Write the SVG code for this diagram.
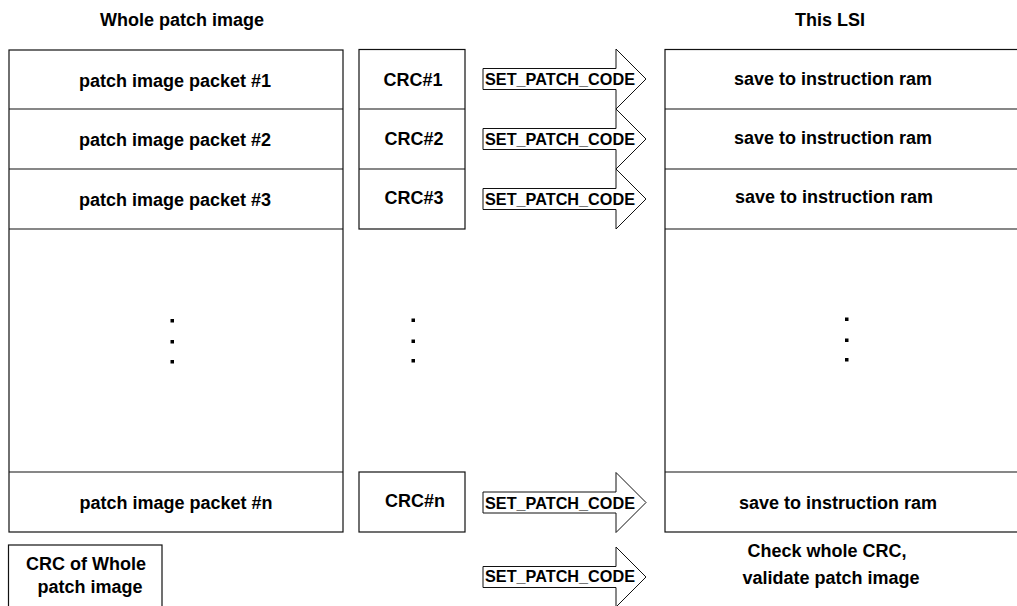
<svg xmlns="http://www.w3.org/2000/svg" width="1017" height="606" viewBox="0 0 1017 606">
<style>
.box{fill:#fff;stroke:#111;stroke-width:1.2}
.ln{stroke:#111;stroke-width:1.2;fill:none}
.t{font-family:"Liberation Sans",Arial,sans-serif;font-weight:bold;font-size:18px;fill:#000;text-anchor:middle}
.at{font-family:"Liberation Sans",Arial,sans-serif;font-weight:bold;font-size:16.5px;fill:#000}
.arr{fill:#fff;stroke:#111;stroke-width:1}
.dot{fill:#000}
</style>
<defs>
<path id="arrow" class="arr" d="M483,-10.5 H616 V-30 L646,0 L616,30 V10.5 H483 Z"/>
</defs>
<rect width="1017" height="606" fill="#fff"/>

<g id="title-left"><text class="t" x="182" y="26">Whole patch image</text></g>
<g id="title-right"><text class="t" x="830" y="26">This LSI</text></g>

<g id="patch-image">
<rect class="box" x="9" y="50" width="334" height="482"/>
<line class="ln" x1="9" y1="109" x2="343" y2="109"/>
<line class="ln" x1="9" y1="169" x2="343" y2="169"/>
<line class="ln" x1="9" y1="229" x2="343" y2="229"/>
<line class="ln" x1="9" y1="472" x2="343" y2="472"/>
<text class="t" x="175" y="87">patch image packet #1</text>
<text class="t" x="175" y="146">patch image packet #2</text>
<text class="t" x="175" y="206">patch image packet #3</text>
<rect class="dot" x="170.5" y="319" width="3.5" height="3.5"/>
<rect class="dot" x="170.5" y="340" width="3.5" height="3.5"/>
<rect class="dot" x="170.5" y="360" width="3.5" height="3.5"/>
<text class="t" x="176" y="509">patch image packet #n</text>
</g>

<g id="crc-column">
<rect class="box" x="359" y="49.5" width="106" height="179.5"/>
<line class="ln" x1="359" y1="109" x2="465" y2="109"/>
<line class="ln" x1="359" y1="169" x2="465" y2="169"/>
<text class="t" x="413" y="86">CRC#1</text>
<text class="t" x="414" y="145">CRC#2</text>
<text class="t" x="414" y="204">CRC#3</text>
<rect class="dot" x="411.5" y="318.5" width="3.5" height="3.5"/>
<rect class="dot" x="411.5" y="339.5" width="3.5" height="3.5"/>
<rect class="dot" x="411.5" y="359" width="3.5" height="3.5"/>
</g>

<g id="crc-n">
<rect class="box" x="359" y="472" width="106" height="60"/>
<text class="t" x="415" y="507">CRC#n</text>
</g>

<g id="crc-whole">
<rect class="box" x="8.5" y="545" width="153.5" height="80"/>
<text class="t" x="86" y="570">CRC of Whole</text>
<text class="t" x="90" y="593">patch image</text>
</g>

<g id="lsi">
<rect class="box" x="665" y="49.5" width="380" height="482.5"/>
<line class="ln" x1="665" y1="109" x2="1017" y2="109"/>
<line class="ln" x1="665" y1="169" x2="1017" y2="169"/>
<line class="ln" x1="665" y1="229" x2="1017" y2="229"/>
<line class="ln" x1="665" y1="472" x2="1017" y2="472"/>
<text class="t" x="833" y="85">save to instruction ram</text>
<text class="t" x="833" y="144">save to instruction ram</text>
<text class="t" x="834" y="203">save to instruction ram</text>
<rect class="dot" x="845" y="317.5" width="3.5" height="3.5"/>
<rect class="dot" x="845" y="338.5" width="3.5" height="3.5"/>
<rect class="dot" x="845" y="358" width="3.5" height="3.5"/>
<text class="t" x="838" y="509">save to instruction ram</text>
</g>

<g id="validate">
<text class="t" x="827" y="557">Check whole CRC,</text>
<text class="t" x="831" y="584">validate patch image</text>
</g>

<g id="connectors">
<g transform="translate(0,79)"><use href="#arrow"/><text class="at" x="485" y="6" textLength="150" lengthAdjust="spacingAndGlyphs">SET_PATCH_CODE</text></g>
<g transform="translate(0,139)"><use href="#arrow"/><text class="at" x="485" y="6" textLength="150" lengthAdjust="spacingAndGlyphs">SET_PATCH_CODE</text></g>
<g transform="translate(0,199)"><use href="#arrow"/><text class="at" x="485" y="6" textLength="150" lengthAdjust="spacingAndGlyphs">SET_PATCH_CODE</text></g>
<g transform="translate(0,502.5)"><use href="#arrow"/><text class="at" x="485" y="6.5" textLength="150" lengthAdjust="spacingAndGlyphs">SET_PATCH_CODE</text></g>
<g transform="translate(0,577)"><use href="#arrow"/><text class="at" x="485" y="4.5" textLength="150" lengthAdjust="spacingAndGlyphs">SET_PATCH_CODE</text></g>
</g>
</svg>
